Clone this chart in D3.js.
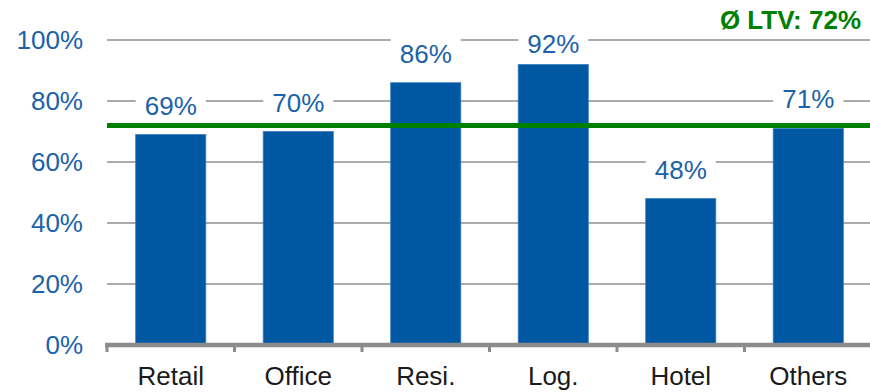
<!DOCTYPE html>
<html>
<head>
<meta charset="utf-8">
<script src="https://cdn.jsdelivr.net/npm/d3@7"></script>
<style>
  html, body { margin: 0; padding: 0; background: #fff; }
  svg { display: block; font-family: "Liberation Sans", Arial, sans-serif; }
</style>
</head>
<body>
<svg id="chart" width="870" height="392"></svg>
<script>
// LTV by asset class
const categories = ["Retail", "Office", "Resi.", "Log.", "Hotel", "Others"];
const ltvValues = [69, 70, 86, 92, 48, 71];
const averageLtv = 72;
const yTicks = [0, 20, 40, 60, 80, 100];
const titleText = "Ø LTV: 72%";

const svg = d3.select("#chart");
const blue = "#0057A2";
const textBlue = "#1B62AA";
const grid = "#ABABAB";
const axisGray = "#8C8C8C";
const green = "#008000";

const x = d3.scaleBand()
  .domain(categories)
  .range([107, 872])
  .paddingInner(0.45)
  .paddingOuter(0.225);

const y = d3.scaleLinear().domain([0, 100]).range([345, 40]);

// horizontal gridlines (0 is drawn by the category axis)
svg.append("g")
  .selectAll("line")
  .data(yTicks.filter(t => t > 0))
  .join("line")
  .attr("x1", 107)
  .attr("x2", 870)
  .attr("y1", d => y(d))
  .attr("y2", d => y(d))
  .attr("stroke", grid)
  .attr("stroke-width", 2);

// y tick labels
svg.append("g")
  .selectAll("text")
  .data(yTicks)
  .join("text")
  .attr("x", 83)
  .attr("y", d => y(d))
  .attr("dy", "0.36em")
  .attr("text-anchor", "end")
  .attr("fill", textBlue)
  .attr("font-size", 26)
  .text(d => d + "%");

// bars
svg.append("g")
  .selectAll("rect")
  .data(categories)
  .join("rect")
  .attr("x", d => x(d))
  .attr("width", x.bandwidth())
  .attr("y", (d, i) => y(ltvValues[i]))
  .attr("height", (d, i) => y(0) - y(ltvValues[i]))
  .attr("fill", blue)
  .attr("stroke", "#3C7FC0")
  .attr("stroke-width", 0.8);

// value labels on white boxes
const labelBaseline = v => Math.max(y(v) - 20, 53);
const labels = svg.append("g")
  .selectAll("g")
  .data(categories)
  .join("g");

labels.append("rect")
  .attr("x", d => x(d))
  .attr("width", x.bandwidth())
  .attr("y", (d, i) => labelBaseline(ltvValues[i]) - 24)
  .attr("height", 28)
  .attr("fill", "#fff");

labels.append("text")
  .attr("x", d => x(d) + x.bandwidth() / 2)
  .attr("y", (d, i) => labelBaseline(ltvValues[i]))
  .attr("text-anchor", "middle")
  .attr("fill", textBlue)
  .attr("font-size", 26)
  .text((d, i) => ltvValues[i] + "%");

// category axis
const xAxis = svg.append("g");
xAxis.append("line")
  .attr("x1", 105)
  .attr("x2", 870)
  .attr("y1", y(0))
  .attr("y2", y(0))
  .attr("stroke", axisGray)
  .attr("stroke-width", 4.5);

const boundaries = categories.map(c => x(c) - x.step() * x.paddingInner() / 2);
xAxis.selectAll("line.tick")
  .data(boundaries)
  .join("line")
  .attr("class", "tick")
  .attr("x1", d => d)
  .attr("x2", d => d)
  .attr("y1", y(0))
  .attr("y2", y(0) + 7)
  .attr("stroke", axisGray)
  .attr("stroke-width", 3);

xAxis.selectAll("text")
  .data(categories)
  .join("text")
  .attr("x", d => x(d) + x.bandwidth() / 2)
  .attr("y", 385)
  .attr("text-anchor", "middle")
  .attr("fill", "#1a1a1a")
  .attr("font-size", 26)
  .text(d => d);

// average LTV line
svg.append("line")
  .attr("x1", 107)
  .attr("x2", 870)
  .attr("y1", y(averageLtv))
  .attr("y2", y(averageLtv))
  .attr("stroke", green)
  .attr("stroke-width", 5);

svg.append("text")
  .attr("x", 861)
  .attr("y", 29)
  .attr("text-anchor", "end")
  .attr("fill", green)
  .attr("font-size", 26)
  .attr("font-weight", "bold")
  .text(titleText);
</script>
</body>
</html>
